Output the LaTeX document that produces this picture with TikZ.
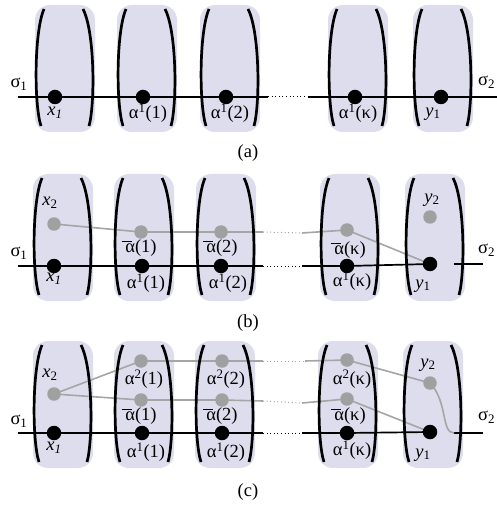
\documentclass[tikz,border=0pt]{standalone}
\usepackage{fontspec}
\setmainfont{Liberation Serif}
\definecolor{blobc}{RGB}{221,221,237}
\definecolor{gdotc}{RGB}{160,160,160}
\definecolor{glinec}{RGB}{165,165,165}
\newcommand\abar{\rlap{\kern-0.2em\raisebox{0.55em}{\rule{0.55em}{0.06em}}}α}
\newcommand\myblob[2]{\fill[blobc,rounded corners=15pt] ({#1-30},{#2-92}) rectangle ({#1+30},{#2+35});}
\newcommand\mybrk[2]{%
  \draw[brk] ({#1-21},{#2-88}) .. controls ({#1-31},{#2-65}) and ({#1-31},{#2+8}) .. ({#1-24},{#2+29});
  \draw[brk] ({#1+18},{#2-88}) .. controls ({#1+30},{#2-65}) and ({#1+30},{#2+8}) .. ({#1+24},{#2+29});}
\pgfdeclarelayer{shade}
\pgfdeclarelayer{lines}
\pgfdeclarelayer{brkl}
\pgfsetlayers{shade,lines,brkl,main}
\begin{document}
\begin{tikzpicture}[x=1pt,y=-1pt,
  bdot/.style={circle,fill=black,inner sep=0pt,minimum size=14.5pt},
  gdot/.style={circle,fill=gdotc,inner sep=0pt,minimum size=13.5pt},
  bline/.style={line width=1.7pt},
  gline/.style={line width=1.6pt,draw=glinec},
  bdots/.style={line width=1pt,dash pattern=on 1pt off 2.6pt},
  gdots/.style={line width=1pt,draw=glinec,dash pattern=on 1pt off 2.6pt},
  brk/.style={line width=2.7pt},
  lbl/.style={inner sep=0pt,font=\fontsize{18.5}{21}\selectfont},
]
\useasboundingbox (0,0) rectangle (496,510);

% ---------- shading and brackets
\begin{pgfonlayer}{shade}
\foreach \cx in {65,147,230,358,443} {\myblob{\cx}{97}}
\foreach \cx in {63,144,226,350,435} {\myblob{\cx}{266}}
\foreach \cx in {63,144,225,348,433} {\myblob{\cx}{433}}
\end{pgfonlayer}
\begin{pgfonlayer}{brkl}
\foreach \cx in {65,147,230,358,443} {\mybrk{\cx}{97}}
\foreach \cx in {63,144,226,350,435} {\mybrk{\cx}{266}}
\foreach \cx in {63,144,225,348,433} {\mybrk{\cx}{433}}
\end{pgfonlayer}

% ================= panel (a)
\node[bdot] (a1) at (55,97) {};
\node[bdot] (a2) at (143,97) {};
\node[bdot] (a3) at (226,97) {};
\node[bdot] (a4) at (355,97) {};
\node[bdot] (a5) at (441,97) {};
\coordinate (aS) at (18,97);
\coordinate (aE) at (268,97);
\coordinate (aS2) at (308,97);
\coordinate (aR) at (497,97);
\begin{pgfonlayer}{lines}
\draw[bline] (aS) -- (a1.center) -- (a2.center) -- (a3.center) -- (aE);
\draw[bdots] (aE) -- (aS2);
\draw[bline] (aS2) -- (a4.center) -- (a5.center) -- (aR);
\end{pgfonlayer}
\node[lbl] (as1) at (19,84) {σ\textsubscript{1}};
\node[lbl,anchor=west] (as2) at (478,82) {σ\textsubscript{2}};
\node[lbl] (ax1) at (55,113) {\textit{x\textsubscript{1}}};
\node[lbl] (al1) at (148,113) {α\textsuperscript{1}(1)};
\node[lbl] (al2) at (230,113) {α\textsuperscript{1}(2)};
\node[lbl] (al4) at (358,113) {α\textsuperscript{1}(κ)};
\node[lbl] (ay1) at (433,114) {\textit{y}\textsubscript{1}};
\node[lbl] (acap) at (248,153) {(a)};

% ================= panel (b)
\node[bdot] (b1) at (54,266) {};
\node[bdot] (b2) at (142,266) {};
\node[bdot] (b3) at (221,266) {};
\node[bdot] (b4) at (347,266) {};
\node[bdot] (b5) at (430,264) {};
\node[gdot] (bx2) at (54,224) {};
\node[gdot] (bg2) at (141,232) {};
\node[gdot] (bg3) at (221,232) {};
\node[gdot] (bg4) at (347,230) {};
\node[gdot] (by2) at (430,217) {};
\coordinate (bS) at (18,266);
\coordinate (bE) at (263,266);
\coordinate (bS2) at (302,266);
\coordinate (bR1) at (454,264);
\coordinate (bR2) at (483,264);
\coordinate (bgE) at (263,232);
\coordinate (bgS2) at (302,233);
\begin{pgfonlayer}{lines}
\draw[bline] (bS) -- (b1.center) -- (b2.center) -- (b3.center) -- (bE);
\draw[bdots] (bE) -- (bS2);
\draw[bline] (bS2) -- (b4.center) -- (b5.center);
\draw[bline] (bR1) -- (bR2);
\draw[gline] (bx2.center) -- (bg2.center) -- (bg3.center) -- (bgE);
\draw[gdots] (bgE) -- (bgS2);
\draw[gline] (bgS2) -- (bg4.center) -- (b5.center);
\end{pgfonlayer}
\node[lbl] (bs1) at (19,253) {σ\textsubscript{1}};
\node[lbl,anchor=west] (bs2) at (478,250) {σ\textsubscript{2}};
\node[lbl] (bx2l) at (50,203) {\textit{x}\textsubscript{2}};
\node[lbl] (bx1) at (54,279) {\textit{x\textsubscript{1}}};
\node[lbl] (bb2) at (141,248) {\abar(1)};
\node[lbl] (bb3) at (222,248) {\abar(2)};
\node[lbl] (bb4) at (350,250) {\abar(κ)};
\node[lbl] (bl2) at (146,283) {α\textsuperscript{1}(1)};
\node[lbl] (bl3) at (228,283) {α\textsuperscript{1}(2)};
\node[lbl] (bl4) at (352,281) {α\textsuperscript{1}(κ)};
\node[lbl] (by1l) at (423,286) {\textit{y}\textsubscript{1}};
\node[lbl] (by2l) at (432,200) {\textit{y}\textsubscript{2}};
\node[lbl] (bcap) at (248,323) {(b)};

% ================= panel (c)
\node[bdot] (c1) at (54,433) {};
\node[bdot] (c2) at (142,433) {};
\node[bdot] (c3) at (222,433) {};
\node[bdot] (c4) at (347,433) {};
\node[bdot] (c5) at (430,432) {};
\node[gdot] (cx2) at (54,394) {};
\node[gdot] (ct2) at (141,361) {};
\node[gdot] (ct3) at (222,361) {};
\node[gdot] (ct4) at (347,360) {};
\node[gdot] (cm2) at (141,400) {};
\node[gdot] (cm3) at (222,400) {};
\node[gdot] (cm4) at (347,399) {};
\node[gdot] (cy2) at (430,383) {};
\coordinate (cS) at (18,433);
\coordinate (cE) at (263,433);
\coordinate (cS2) at (302,433);
\coordinate (cR1) at (454,433);
\coordinate (cR2) at (483,433);
\coordinate (ctE) at (263,361);
\coordinate (ctS2) at (305,361);
\coordinate (cmE) at (263,401);
\coordinate (cmS2) at (302,403);
\begin{pgfonlayer}{lines}
\draw[bline] (cS) -- (c1.center) -- (c2.center) -- (c3.center) -- (cE);
\draw[bdots] (cE) -- (cS2);
\draw[bline] (cS2) -- (c4.center) -- (c5.center);
\draw[bline] (cR1) -- (cR2);
\draw[gline] (cx2.center) -- (ct2.center) -- (ct3.center) -- (ctE);
\draw[gdots] (ctE) -- (ctS2);
\draw[gline] (ctS2) -- (ct4.center) -- (cy2.center) .. controls (448,402) and (441,433) .. (cR1);
\draw[gline] (cx2.center) -- (cm2.center) -- (cm3.center) -- (cmE);
\draw[gdots] (cmE) -- (cmS2);
\draw[gline] (cmS2) -- (cm4.center) -- (c5.center);
\end{pgfonlayer}
\node[lbl] (cs1) at (19,421) {σ\textsubscript{1}};
\node[lbl,anchor=west] (cs2) at (478,417) {σ\textsubscript{2}};
\node[lbl] (cx2l) at (50,375) {\textit{x}\textsubscript{2}};
\node[lbl] (cx1) at (54,448) {\textit{x\textsubscript{1}}};
\node[lbl] (ca2) at (144,379) {α\textsuperscript{2}(1)};
\node[lbl] (ca3) at (226,379) {α\textsuperscript{2}(2)};
\node[lbl] (ca4) at (352,379) {α\textsuperscript{2}(κ)};
\node[lbl] (cb2) at (141,416) {\abar(1)};
\node[lbl] (cb3) at (222,416) {\abar(2)};
\node[lbl] (cb4) at (350,416) {\abar(κ)};
\node[lbl] (cl2) at (146,452) {α\textsuperscript{1}(1)};
\node[lbl] (cl3) at (226,452) {α\textsuperscript{1}(2)};
\node[lbl] (cl4) at (352,450) {α\textsuperscript{1}(κ)};
\node[lbl] (cy1l) at (423,455) {\textit{y}\textsubscript{1}};
\node[lbl] (cy2l) at (428,365) {\textit{y}\textsubscript{2}};
\node[lbl] (ccap) at (248,492) {(c)};
\end{tikzpicture}
\end{document}
